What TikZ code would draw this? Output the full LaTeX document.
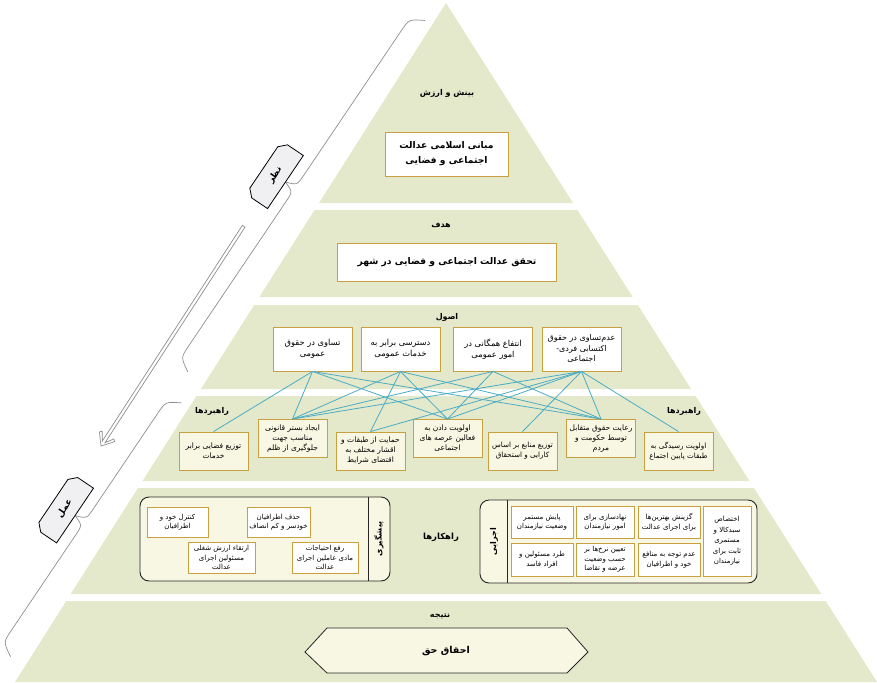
\documentclass[tikz,border=0pt]{standalone}
\usepackage{fontspec}
\newfontfamily\arabicfont[Script=Arabic]{DejaVu Sans}
\TeXXeTstate=1
\newcommand{\fa}[1]{\beginR #1\endR}
\definecolor{layfill}{HTML}{E4E9CB}
\definecolor{goldline}{HTML}{C9A040}
\definecolor{cream}{HTML}{F8F7E3}
\definecolor{linkblue}{HTML}{4BACC6}
\definecolor{flagfill}{HTML}{F0F0F3}
\definecolor{bracegray}{HTML}{8E8E8E}
\begin{document}
\begin{tikzpicture}[x=1pt,y=-1pt,
  layer/.style={fill=layfill, draw=none},
  ttl/.style={font=\arabicfont\bfseries\fontsize{8}{10}\selectfont, inner sep=1pt},
  wbox/.style={draw=goldline, line width=0.9pt, fill=white, align=center, inner sep=0pt,
               font=\arabicfont\fontsize{7}{9.5}\selectfont},
  cbox/.style={wbox, fill=cream},
  bigbox/.style={wbox, font=\arabicfont\bfseries\fontsize{9.2}{15}\selectfont},
  pbox/.style={wbox, minimum width=79, minimum height=44, font=\arabicfont\fontsize{8.3}{11}\selectfont},
  sbox/.style={cbox, minimum width=69, minimum height=38, font=\arabicfont\fontsize{7.5}{10}\selectfont},
  link/.style={draw=linkblue, line width=0.8pt},
  cont/.style={draw=black!85, fill=cream, rounded corners=9pt, line width=0.9pt},
  flagshape/.style={draw=black, fill=flagfill, line width=0.8pt},
  brace/.style={draw=bracegray, line width=0.7pt},
  flagtext/.style={font=\arabicfont\bfseries\fontsize{9}{10}\selectfont, rotate=56, inner sep=0pt}]
\useasboundingbox (0,0) rectangle (877,682);

% pyramid layers
\fill[layer] (446,3) -- (573,203) -- (319,203) -- cycle;
\fill[layer] (314.6,210) -- (577.4,210) -- (632.7,297) -- (259.3,297) -- cycle;
\fill[layer] (254.2,305) -- (637.8,305) -- (691.1,389) -- (200.9,389) -- cycle;
\fill[layer] (196.4,396) -- (695.6,396) -- (749.5,481) -- (142.5,481) -- cycle;
\fill[layer] (138,488) -- (754,488) -- (821.3,594) -- (70.7,594) -- cycle;
\fill[layer] (66.3,601) -- (825.7,601) -- (877,682) -- (15,682) -- cycle;

% layer titles
\node[ttl] (t1) at (447,93) {\fa{بینش و ارزش}};
\node[ttl] (t2) at (441,225) {\fa{هدف}};
\node[ttl] (t3) at (447,317) {\fa{اصول}};
\node[ttl] (t4a) at (212,411) {\fa{راهبردها}};
\node[ttl] (t4b) at (684,411) {\fa{راهبردها}};
\node[ttl, font=\arabicfont\bfseries\fontsize{8.5}{10}\selectfont] (t5) at (441,537) {\fa{راهکارها}};
\node[ttl] (t6) at (440,616) {\fa{نتیجه}};

% foundations and goal
\node[bigbox, minimum width=123, minimum height=44] (base) at (446.5,154)
  {\fa{مبانی اسلامی عدالت}\\\fa{اجتماعی و فضایی}};
\node[bigbox, minimum width=219, minimum height=38] (goal) at (447,262)
  {\fa{تحقق عدالت اجتماعی و فضایی در شهر}};

% principles
\node[pbox] (p1) at (312.5,349) {\fa{تساوی در حقوق}\\\fa{عمومی}};
\node[pbox] (p2) at (400.5,349) {\fa{دسترسی برابر به}\\\fa{خدمات عمومی}};
\node[pbox] (p3) at (493,349) {\fa{انتفاع همگانی در}\\\fa{امور عمومی}};
\node[pbox, font=\arabicfont\fontsize{8}{10.5}\selectfont] (p4) at (581.5,349) {\fa{عدم‌تساوی در حقوق}\\\fa{اکتسابی فردی-}\\\fa{اجتماعی}};

% strategies
\node[sbox] (s1) at (213.5,451) {\fa{توزیع فضایی برابر}\\\fa{خدمات}};
\node[sbox] (s2) at (292.5,438.5) {\fa{ایجاد بستر قانونی}\\\fa{مناسب جهت}\\\fa{جلوگیری از ظلم}};
\node[sbox] (s3) at (370.5,451) {\fa{حمایت از طبقات و}\\\fa{اقشار مختلف به}\\\fa{اقتضای شرایط}};
\node[sbox] (s4) at (447.5,438.5) {\fa{اولویت دادن به}\\\fa{فعالین عرصه های}\\\fa{اجتماعی}};
\node[sbox, font=\arabicfont\fontsize{7.2}{10}\selectfont] (s5) at (522.5,451) {\fa{توزیع منابع بر اساس}\\\fa{کارایی و استحقاق}};
\node[sbox] (s6) at (601,438.5) {\fa{رعایت حقوق متقابل}\\\fa{توسط حکومت و}\\\fa{مردم}};
\node[sbox, font=\arabicfont\fontsize{7.2}{10}\selectfont] (s7) at (678.5,451) {\fa{اولویت رسیدگی به}\\\fa{طبقات پایین اجتماع}};

% links between principles and strategies
\foreach \a/\b in {p1/s1, p1/s2, p1/s4, p1/s6,
                   p2/s2, p2/s3, p2/s4, p2/s6,
                   p3/s2, p3/s4, p3/s6,
                   p4/s2, p4/s3, p4/s4, p4/s5, p4/s6, p4/s7}
  \draw[link] (\a.south) -- (\b.north);

% solutions: preventive group
\draw[cont] (140,497) rectangle (390,581);
\draw[draw=black!85, line width=0.9pt] (368,497) -- (368,581);
\node[ttl, rotate=90] (lblA) at (379,539) {\fa{پیشگیری}};
\node[wbox, minimum width=61, minimum height=30] (k1) at (177.5,522) {\fa{کنترل خود و}\\\fa{اطرافیان}};
\node[wbox, minimum width=63, minimum height=30] (k2) at (278.5,522) {\fa{حذف اطرافیان}\\\fa{خودسر و کم انصاف}};
\node[wbox, minimum width=67, minimum height=31] (k3) at (221.5,557.5) {\fa{ارتقاء ارزش شغلی}\\\fa{مسئولین اجرای}\\\fa{عدالت}};
\node[wbox, minimum width=66, minimum height=31] (k4) at (325,557.5) {\fa{رفع احتیاجات}\\\fa{مادی عاملین اجرای}\\\fa{عدالت}};

% solutions: executive group
\draw[cont] (480,500) rectangle (757,583);
\draw[draw=black!85, line width=0.9pt] (507,500) -- (507,583);
\node[ttl, rotate=90] (lblB) at (494,541.5) {\fa{اجرایی}};
\node[wbox, minimum width=62, minimum height=32] (e1) at (542,522) {\fa{پایش مستمر}\\\fa{وضعیت نیازمندان}};
\node[wbox, minimum width=58, minimum height=32] (e2) at (605,522) {\fa{نهادسازی برای}\\\fa{امور نیازمندان}};
\node[wbox, minimum width=62, minimum height=32] (e3) at (669,522) {\fa{گزینش بهترین‌ها}\\\fa{برای اجرای عدالت}};
\node[wbox, minimum width=62, minimum height=33] (e4) at (542,559.5) {\fa{طرد مسئولین و}\\\fa{افراد فاسد}};
\node[wbox, minimum width=58, minimum height=33] (e5) at (605,559.5) {\fa{تعیین نرخ‌ها بر}\\\fa{حسب وضعیت}\\\fa{عرضه و تقاضا}};
\node[wbox, minimum width=62, minimum height=33] (e6) at (669,559.5) {\fa{عدم توجه به منافع}\\\fa{خود و اطرافیان}};
\node[wbox, minimum width=48, minimum height=70, font=\arabicfont\fontsize{7}{10.5}\selectfont] (e7) at (727,541) {\fa{اختصاص}\\\fa{سبدکالا و}\\\fa{مستمری}\\\fa{ثابت برای}\\\fa{نیازمندان}};

% result
\filldraw[fill=cream, draw=black!85, line width=0.8pt]
  (305,652) -- (327,628) -- (567,628) -- (588,652) -- (567,673) -- (327,673) -- cycle;
\node[font=\arabicfont\bfseries\fontsize{9.5}{12}\selectfont] (res) at (446,651) {\fa{احقاق حق}};

% theory brace with its tab
\begin{scope}[shift={(275,175)}, rotate=56]
  \draw[brace] (-212,38) .. controls (-204,24) .. (-190,24) -- (-16,24)
    .. controls (-4,24) .. (0,12.6) .. controls (4,24) .. (16,24) -- (190,24)
    .. controls (204,24) .. (212,38);
  \filldraw[flagshape] (32,12.6) -- (32,-6.5) -- (25,-13.5) -- (-25,-13.5) -- (-32,-6.5) -- (-32,12.6) -- cycle;
\end{scope}
\node[flagtext] (nazar) at (275,175) {\fa{نظر}};

% practice brace with its tab
\begin{scope}[shift={(64.6,508.5)}, rotate=56]
  \draw[brace] (-153,38) .. controls (-145,24) .. (-131,24) -- (-16,24)
    .. controls (-4,24) .. (0,12.6) .. controls (4,24) .. (16,24) -- (131,24)
    .. controls (145,24) .. (153,38);
  \filldraw[flagshape] (33,12.6) -- (33,-6.5) -- (26,-13.5) -- (-26,-13.5) -- (-33,-6.5) -- (-33,12.6) -- cycle;
\end{scope}
\node[flagtext] (amal) at (64.6,508.5) {\fa{عمل}};

% hollow arrow from theory down to practice
\begin{scope}[shift={(101,446)}, rotate=57]
  \filldraw[fill=white, draw=bracegray, line width=0.7pt]
    (0,0) -- (11,-9) -- (13,-7) -- (5,-1.6) -- (262,-1.6) -- (262,1.6) -- (5,1.6) -- (13,7) -- (11,9) -- cycle;
\end{scope}
\end{tikzpicture}
\end{document}
